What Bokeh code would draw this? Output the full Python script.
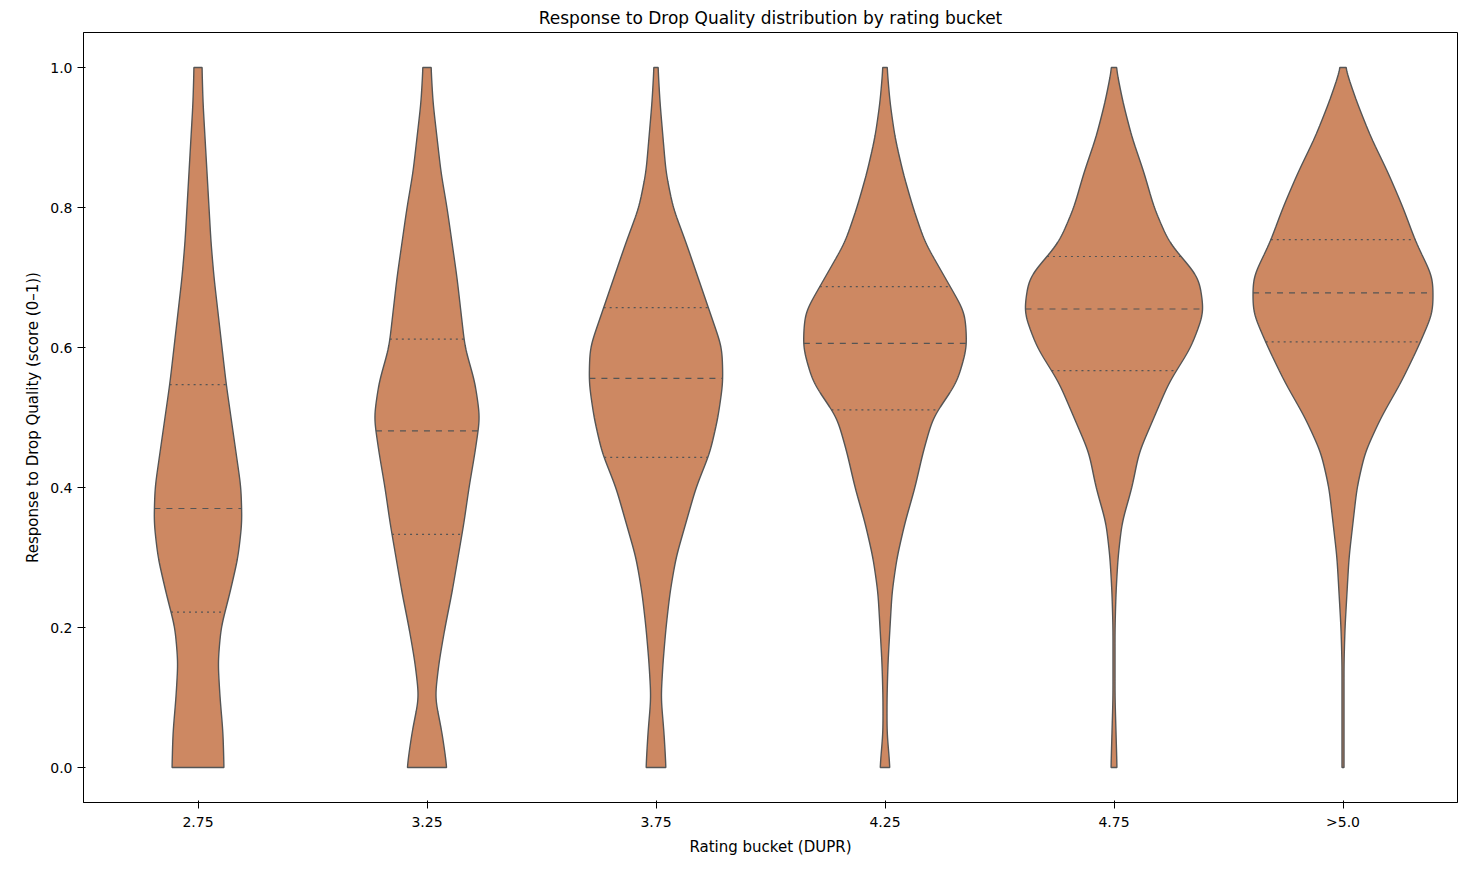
import numpy as np
from bokeh.plotting import figure
from bokeh.models import FixedTicker, Range1d
from bokeh.embed import file_html
from bokeh.resources import INLINE

categories = ["2.75", "3.25", "3.75", "4.25", "4.75", ">5.0"]
y_grid = [0, .05, .1, .15, .2, .25, .3, .35, .4, .45, .5, .55, .6, .65, .7, .75, .8, .85, .9, .95, 1.0]
# half widths (pixels at reference scale, 229 px per category)
w275 = [26, 25, 22, 20, 23, 32, 40, 44, 43, 38, 33, 28, 24, 20, 16, 13, 11, 9, 7, 5, 4]
w325 = [20, 15, 8, 12, 18, 25, 31, 37, 42, 48, 53, 48, 38, 34, 30, 25, 20, 14, 10, 6, 4]
w375 = [10, 8, 5, 7, 10, 14, 20, 30, 40, 54, 62, 67, 66, 54, 42, 30, 17, 10, 7, 4, 2]
w425 = [5, 2, 2, 3, 5, 7, 12, 20, 30, 38, 48, 72, 82, 80, 60, 40, 28, 18, 10, 5, 2]
w475 = [3, 2, 1, 1, 1, 2, 4, 8, 18, 25, 40, 55, 77, 90, 85, 55, 40, 30, 18, 9, 2]
w50 = [1, 1, 1, 1, 2, 4, 6, 10, 14, 22, 38, 58, 75, 90, 90, 73, 60, 45, 28, 14, 2]
widths = [w275, w325, w375, w425, w475, w50]
q1 = [0.222, 0.333, 0.443, 0.511, 0.567, 0.608]
med = [0.370, 0.481, 0.556, 0.606, 0.655, 0.678]
q3 = [0.547, 0.612, 0.657, 0.687, 0.730, 0.754]
SCALE = 229.0

FILL = "#cd8862"
EDGE = "#555555"

p = figure(width=1468, height=862, output_backend="svg", toolbar_location=None,
           title="Response to Drop Quality distribution by rating bucket",
           x_range=Range1d(-0.5, 5.5), y_range=Range1d(-0.05, 1.05),
           x_axis_label="Rating bucket (DUPR)", y_axis_label="Response to Drop Quality (score (0–1))")
p.title.align = "center"
p.title.text_font_style = "normal"
p.title.text_font = "DejaVu Sans"
p.title.text_font_size = "17px"
p.title.text_color = "black"
p.xgrid.visible = False
p.ygrid.visible = False
p.outline_line_color = "black"
p.min_border_left = 83
p.min_border_right = 11
p.min_border_top = 30
p.min_border_bottom = 60

def smooth_profile(y, w):
    hw = np.interp(y, y_grid, w)
    k = np.exp(-0.5 * (np.arange(-12, 13) / 5.0) ** 2)
    k /= k.sum()
    padded = np.concatenate([np.full(12, hw[0]), hw, np.full(12, hw[-1])])
    return np.convolve(padded, k, mode="valid")

yf = np.linspace(0, 1, 401)
for i, w in enumerate(widths):
    hw = smooth_profile(yf, w) / SCALE
    xs = np.concatenate([i - hw, (i + hw)[::-1]])
    ys = np.concatenate([yf, yf[::-1]])
    p.patch(xs, ys, fill_color=FILL, line_color=EDGE, line_width=1.4)
    for q, dash in ((q1[i], "dotted"), (med[i], "dashed"), (q3[i], "dotted")):
        h = np.interp(q, yf, hw)
        p.segment(i - h, q, i + h, q, line_color=EDGE, line_width=1.2, line_dash=dash)

p.xaxis.ticker = FixedTicker(ticks=list(range(len(categories))))
p.xaxis.major_label_overrides = {i: c for i, c in enumerate(categories)}
p.yaxis.ticker = FixedTicker(ticks=[0, 0.2, 0.4, 0.6, 0.8, 1.0])
p.yaxis.major_label_overrides = {0: "0.0", 0.2: "0.2", 0.4: "0.4", 0.6: "0.6", 0.8: "0.8", 1.0: "1.0"}
for ax in (p.xaxis, p.yaxis):
    ax.axis_label_text_font_style = "normal"
    ax.axis_label_text_font = "DejaVu Sans"
    ax.axis_label_text_font_size = "15px"
    ax.axis_label_text_color = "black"
    ax.major_label_text_font = "DejaVu Sans"
    ax.major_label_text_font_size = "14px"
    ax.major_label_text_color = "black"
    ax.minor_tick_line_color = None
    ax.axis_line_color = "black"
    ax.major_tick_line_color = "black"

open("out.html", "w").write(file_html(p, INLINE))
